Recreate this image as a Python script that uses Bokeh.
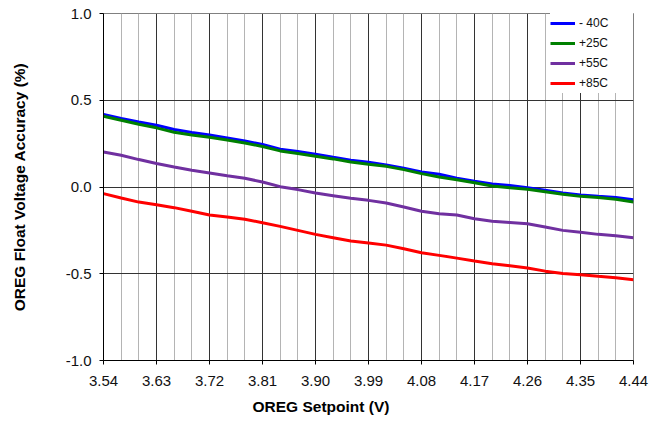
from bokeh.plotting import figure
from bokeh.models import FixedTicker, PrintfTickFormatter, Legend, LegendItem, Title, Range1d
from bokeh.embed import file_html
from bokeh.resources import INLINE

# ---- data ----
setpoint_v = [3.54, 3.57, 3.60, 3.63, 3.66, 3.69, 3.72, 3.75, 3.78, 3.81, 3.84,
              3.87, 3.90, 3.93, 3.96, 3.99, 4.02, 4.05, 4.08, 4.11, 4.14,
              4.17, 4.20, 4.23, 4.26, 4.29, 4.32, 4.35, 4.38, 4.41, 4.44]

acc_m40 = [0.418, 0.395, 0.375, 0.356, 0.331, 0.314, 0.300, 0.283, 0.265, 0.245, 0.218,
           0.204, 0.189, 0.171, 0.154, 0.143, 0.127, 0.108, 0.087, 0.073, 0.050,
           0.033, 0.017, 0.008, -0.004, -0.019, -0.035, -0.046, -0.054, -0.061, -0.073]
acc_p25 = [0.408, 0.385, 0.362, 0.341, 0.316, 0.300, 0.287, 0.271, 0.254, 0.233, 0.208,
           0.193, 0.177, 0.162, 0.144, 0.131, 0.119, 0.100, 0.077, 0.058, 0.042,
           0.025, 0.006, -0.004, -0.013, -0.027, -0.042, -0.054, -0.061, -0.071, -0.087]
acc_p55 = [0.202, 0.183, 0.158, 0.135, 0.115, 0.096, 0.081, 0.065, 0.050, 0.029, 0.002,
           -0.015, -0.035, -0.050, -0.065, -0.077, -0.092, -0.115, -0.140, -0.154, -0.161,
           -0.183, -0.198, -0.204, -0.212, -0.231, -0.250, -0.261, -0.273, -0.281, -0.292]
acc_p85 = [-0.038, -0.063, -0.087, -0.102, -0.119, -0.140, -0.161, -0.173, -0.186, -0.206, -0.227,
           -0.250, -0.273, -0.292, -0.311, -0.323, -0.335, -0.356, -0.379, -0.394, -0.410,
           -0.427, -0.442, -0.454, -0.467, -0.485, -0.498, -0.506, -0.515, -0.523, -0.534]

series_labels = ["- 40C", "+25C", "+55C", "+85C"]
series_colors = ["#0000FF", "#008000", "#7030A0", "#FF0000"]

x_ticks = [3.54, 3.63, 3.72, 3.81, 3.90, 3.99, 4.08, 4.17, 4.26, 4.35, 4.44]
y_ticks = [-1.0, -0.5, 0.0, 0.5, 1.0]

x_title = "OREG Setpoint (V)"
y_title = "OREG Float Voltage Accuracy (%)"

FONT = "Liberation Sans"

p = figure(width=660, height=428, output_backend="svg", toolbar_location=None,
           x_range=Range1d(3.54, 4.44), y_range=Range1d(-1.0, 1.0),
           min_border_left=103, min_border_right=27, min_border_top=13, min_border_bottom=68)
p.background_fill_color = "white"
p.border_fill_color = "white"
p.outline_line_color = "#808080"
p.outline_line_width = 1

# axes
for ax in (p.xaxis[0], p.yaxis[0]):
    ax.axis_line_color = "black"
    ax.major_tick_line_color = "black"
    ax.major_tick_out = 4
    ax.major_tick_in = 0
    ax.minor_tick_line_color = None
    ax.major_label_text_font = FONT
    ax.major_label_text_font_size = "15px"
    ax.major_label_text_color = "#111111"

p.xaxis.ticker = FixedTicker(ticks=x_ticks, minor_ticks=setpoint_v)
p.xaxis.formatter = PrintfTickFormatter(format="%.2f")
p.xaxis.major_label_standoff = 11
p.yaxis.ticker = FixedTicker(ticks=y_ticks)
p.yaxis.formatter = PrintfTickFormatter(format="%.1f")
p.yaxis.major_label_standoff = 8

p.yaxis.axis_label = y_title
p.yaxis.axis_label_standoff = 35
p.yaxis.axis_label_text_font = FONT
p.yaxis.axis_label_text_font_size = "15.5px"
p.yaxis.axis_label_text_font_style = "bold"
p.yaxis.axis_label_text_color = "black"

# grids
p.xgrid.ticker = FixedTicker(ticks=x_ticks, minor_ticks=setpoint_v)
p.xgrid.grid_line_color = "#333333"
p.xgrid.grid_line_width = 1
p.xgrid.minor_grid_line_color = "#b4b4b4"
p.xgrid.minor_grid_line_width = 1
p.ygrid.ticker = FixedTicker(ticks=y_ticks)
p.ygrid.grid_line_color = "#333333"
p.ygrid.grid_line_width = 1

# lines
renderers = []
for ys, col in zip([acc_m40, acc_p25, acc_p55, acc_p85], series_colors):
    r = p.line(setpoint_v, ys, line_color=col, line_width=3)
    renderers.append(r)

legend = Legend(items=[LegendItem(label=lab, renderers=[r]) for lab, r in zip(series_labels, renderers)],
                location="top_right")
legend.margin = 0
legend.padding = 3
legend.spacing = 0
legend.glyph_height = 20
legend.glyph_width = 25
legend.label_height = 20
legend.label_width = 54
legend.label_standoff = 4
legend.label_text_font = FONT
legend.label_text_font_size = "12px"
legend.label_text_color = "#111111"
legend.border_line_color = None
legend.background_fill_color = "white"
legend.background_fill_alpha = 1.0
p.add_layout(legend)

xt = Title(text=x_title, align="left", offset=149, standoff=14,
           text_font=FONT, text_font_size="15.5px", text_font_style="bold", text_color="black")
p.add_layout(xt, "below")

open("out.html", "w").write(file_html(p, INLINE))
